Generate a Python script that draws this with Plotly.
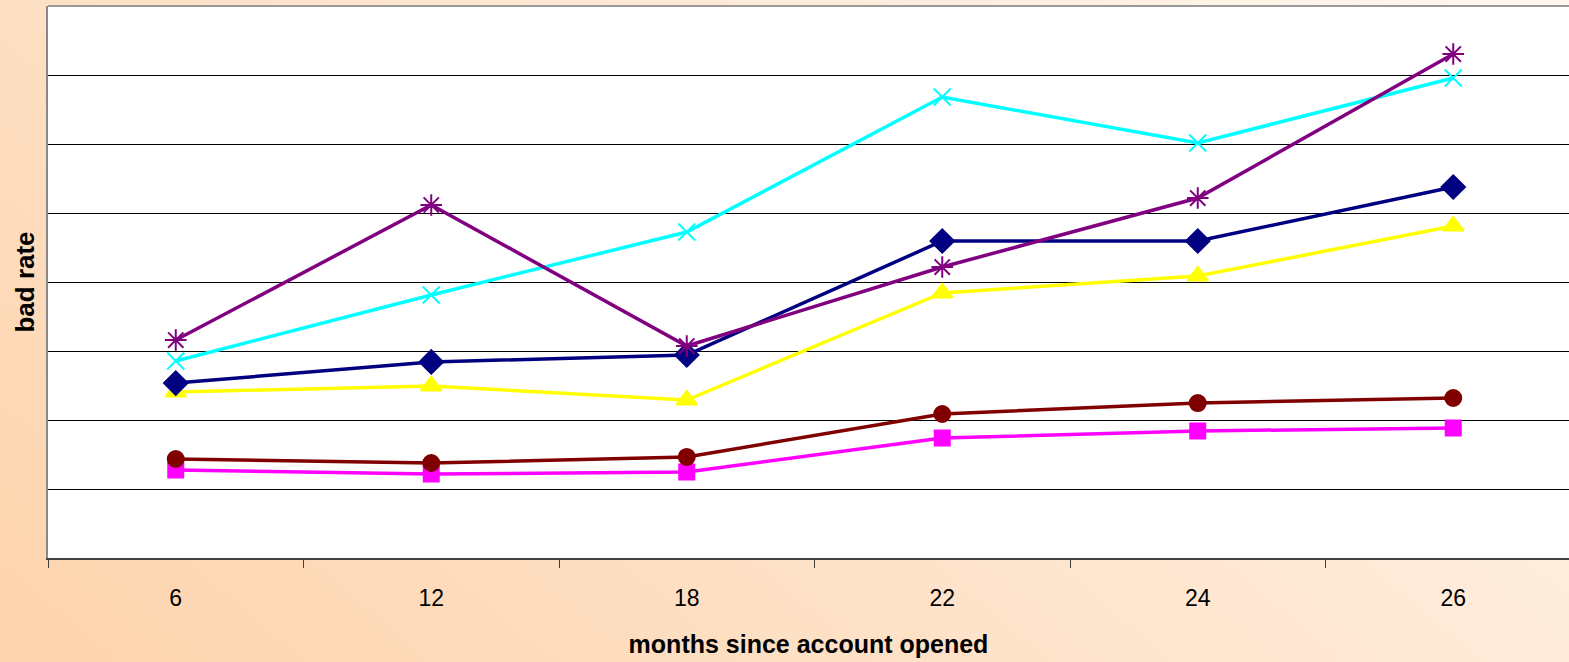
import base64
import plotly.graph_objects as go

months = ["6", "12", "18", "22", "24", "26"]
s_magenta = [1.275, 1.217, 1.246, 1.739, 1.841, 1.884]
s_darkred = [1.435, 1.377, 1.464, 2.087, 2.246, 2.319]
s_yellow = [2.406, 2.493, 2.290, 3.841, 4.087, 4.812]
s_navy = [2.536, 2.841, 2.942, 4.594, 4.594, 5.377]
s_cyan = [2.855, 3.812, 4.725, 6.681, 6.014, 6.957]
s_purple = [3.159, 5.116, 3.072, 4.217, 5.217, 7.304]

W, H = 1569, 662
L, T, B = 48, 6, 104
pw, ph = W - L, H - T - B

svg = f'''<svg xmlns="http://www.w3.org/2000/svg" width="{W}" height="{H}" viewBox="0 0 {W} {H}" preserveAspectRatio="none">
<defs><linearGradient id="g" gradientUnits="userSpaceOnUse" x1="0" y1="{H}" x2="979" y2="-498">
<stop offset="0" stop-color="#FDD3AC"/><stop offset="1" stop-color="#FFF7F0"/></linearGradient></defs>
<rect x="0" y="0" width="{W}" height="{H}" fill="url(#g)"/></svg>'''
src = "data:image/svg+xml;base64," + base64.b64encode(svg.encode()).decode()

fig = go.Figure()
series = [
    (s_magenta, "#FF00FF", "square", 15),
    (s_darkred, "#800000", "circle", 16),
    (s_yellow, "#FFFF00", "triangle-up", 18),
    (s_navy, "#000080", "diamond", 18),
    (s_cyan, "#00FFFF", "x-thin-open", 17),
    (s_purple, "#800080", "asterisk-open", 18),
]
for vals, col, sym, sz in series:
    fig.add_trace(go.Scatter(
        x=months, y=vals, mode="lines+markers",
        line=dict(color=col, width=3.5),
        marker=dict(symbol=sym, size=sz, color=col, line=dict(color=col, width=2)),
        showlegend=False, cliponaxis=False,
    ))

fig.add_layout_image(dict(
    source=src, xref="paper", yref="paper",
    x=-L / pw, y=1 + T / ph, sizex=W / pw, sizey=H / ph,
    xanchor="left", yanchor="top", sizing="stretch", layer="below",
))
fig.add_shape(type="rect", xref="paper", yref="paper", x0=0, x1=1, y0=0, y1=1,
              fillcolor="white", line=dict(width=0), layer="below")
fig.add_shape(type="line", xref="paper", yref="paper", x0=0, x1=1, y0=1, y1=1,
              line=dict(color="#999999", width=2))

fig.update_layout(
    width=W, height=H,
    margin=dict(l=L, r=0, t=T, b=B),
    paper_bgcolor="rgba(0,0,0,0)", plot_bgcolor="white",
    font=dict(family="Liberation Sans, Arial", color="black"),
    xaxis=dict(
        type="category", range=[-0.5, -0.5 + pw / 255.5],
        tickson="boundaries", ticks="outside", ticklen=8, tickwidth=1, tickcolor="#404040",
        showline=True, linecolor="#404040", linewidth=2,
        showgrid=False, zeroline=False,
        tickfont=dict(size=23), ticklabelstandoff=18,
        title=dict(text="<b>months since account opened</b>", font=dict(size=25), standoff=26),
    ),
    yaxis=dict(
        range=[0, 8], dtick=1, showticklabels=False, ticks="",
        showgrid=True, gridcolor="black", gridwidth=1,
        showline=True, linecolor="#888888", linewidth=2, zeroline=False,
        title=dict(text="<b>bad rate</b>", font=dict(size=26), standoff=4),
    ),
)
fig.write_html("out.html", config={"displayModeBar": False},
               post_script="document.body.style.margin='0';")
